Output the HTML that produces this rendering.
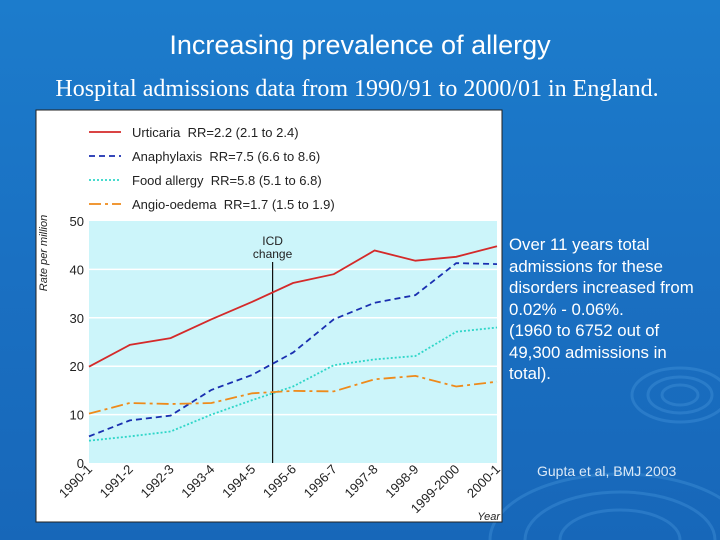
<!DOCTYPE html>
<html style="overflow:hidden"><head><meta charset="utf-8"><style>
html,body{margin:0;width:720px;height:540px;overflow:hidden;font-family:"Liberation Sans",sans-serif}
#bg{position:absolute;left:0;top:0;width:720px;height:540px;background:linear-gradient(180deg,#1c7ccc 0%,#1a70c2 50%,#1767b9 100%)}
.t{position:absolute;color:#fff}
svg text{white-space:pre}
</style></head><body>
<div id="bg"></div>
<svg style="position:absolute;left:0;top:0" width="720" height="540">
<g fill="none" stroke="#4a9be0" stroke-opacity="0.35" stroke-width="3">
<ellipse cx="680" cy="395" rx="18" ry="10"/><ellipse cx="680" cy="395" rx="32" ry="18"/><ellipse cx="680" cy="395" rx="48" ry="27"/>
<ellipse cx="620" cy="540" rx="60" ry="30"/><ellipse cx="620" cy="540" rx="95" ry="48"/><ellipse cx="620" cy="540" rx="130" ry="66"/>
</g></svg>
<div class="t" style="left:0;width:720px;top:30px;text-align:center;font-size:27px">Increasing prevalence of allergy</div>
<div class="t" style="left:0;width:714px;top:76px;text-align:center;font-size:24px;font-family:'Liberation Serif',serif;white-space:nowrap">Hospital admissions data from 1990/91 to 2000/01 in England.</div>
<div class="t" style="left:509px;top:234px;width:210px;font-size:16.8px;line-height:21.5px">Over 11 years total admissions for these disorders increased from 0.02% - 0.06%.<br>(1960 to 6752 out of<br>49,300 admissions in<br>total).</div>
<div class="t" style="left:537px;top:463px;font-size:14px;color:#dbe9f7">Gupta et al, BMJ 2003</div>
<svg id="chart" style="position:absolute;left:0;top:0" width="720" height="540"></svg>
<script>
const categories=["1990-1","1991-2","1992-3","1993-4","1994-5","1995-6","1996-7","1997-8","1998-9","1999-2000","2000-1"];
const urticaria=[19.9,24.4,25.8,29.7,33.3,37.2,39,43.9,41.8,42.6,44.8];
const anaphylaxis=[5.5,8.8,9.8,15.1,18.2,22.8,29.7,33.1,34.7,41.3,41.1];
const foodAllergy=[4.6,5.5,6.5,10,13,15.8,20.2,21.4,22.1,27.1,28];
const angioOedema=[10.2,12.4,12.2,12.4,14.4,14.9,14.8,17.3,18,15.8,16.8];
const yTicks=[0,10,20,30,40,50];
const legendLabels=["Urticaria  RR=2.2 (2.1 to 2.4)","Anaphylaxis  RR=7.5 (6.6 to 8.6)","Food allergy  RR=5.8 (5.1 to 6.8)","Angio-oedema  RR=1.7 (1.5 to 1.9)"];
const icdPos=4.5;
const NS="http://www.w3.org/2000/svg",svg=document.getElementById('chart');
const X0=89,X1=497,Y0=463,Y1=221;
const xs=i=>X0+(X1-X0)*i/(categories.length-1);
const ys=v=>Y0-(Y0-Y1)*v/50;
function mk(t,a,p){const e=document.createElementNS(NS,t);for(const k in a)e.setAttribute(k,a[k]);(p||svg).appendChild(e);return e;}
let e;
e=mk('rect',{x:36,y:110,width:466,height:412,fill:'#fff',stroke:'#222','stroke-width':1});


e=mk('rect',{x:X0,y:Y1,width:X1-X0,height:Y0-Y1,fill:'#ccf5fa'});


yTicks.forEach(v=>{
 if(v>0&&v<50){e=mk('line',{x1:X0,x2:X1,y1:ys(v),y2:ys(v),stroke:'#fff','stroke-width':1.5});
 
 }
 e=mk('text',{x:84,y:ys(v)+5,'text-anchor':'end','font-size':13,fill:'#222'});e.textContent=v;
 
 
});
e=mk('text',{transform:'translate(47,253) rotate(-90)','text-anchor':'middle','font-size':11,'font-style':'italic',fill:'#222'});e.textContent='Rate per million';


categories.forEach((c,i)=>{
 e=mk('text',{transform:`translate(${xs(i)+4},${470}) rotate(-45)`,'text-anchor':'end','font-size':13,fill:'#222'});e.textContent=c;
 
 
});
e=mk('text',{x:500,y:520,'text-anchor':'end','font-size':11,'font-style':'italic',fill:'#222'});e.textContent='Year';


const ix=xs(icdPos);
e=mk('line',{x1:ix,x2:ix,y1:262,y2:Y0,stroke:'#111','stroke-width':1.2});


e=mk('text',{x:ix,y:245,'text-anchor':'middle','font-size':12,fill:'#222'});e.textContent='ICD';


e=mk('text',{x:ix,y:258,'text-anchor':'middle','font-size':12,fill:'#222'});e.textContent='change';


const series=[[urticaria,'#d42a2a','','urticaria'],[anaphylaxis,'#1a2fb0','6,4','anaphylaxis'],[foodAllergy,'#2fd6c8','2,2','food-allergy'],[angioOedema,'#ee8a1a','12,4,3,4','angio-oedema']];
series.forEach((s,k)=>{
 const d=s[0].map((v,i)=>(i?'L':'M')+xs(i).toFixed(1)+','+ys(v).toFixed(1)).join('');
 e=mk('path',{d:d,fill:'none',stroke:s[1],'stroke-width':1.8,'stroke-dasharray':s[2]});
 
 
 const ly=132+24*k;
 e=mk('line',{x1:89,x2:121,y1:ly,y2:ly,stroke:s[1],'stroke-width':1.8,'stroke-dasharray':s[2]});
 
 
 e=mk('text',{x:132,y:ly+5,'font-size':13,fill:'#222'});e.textContent=legendLabels[k];
 
 
});
</script>
</body></html>
